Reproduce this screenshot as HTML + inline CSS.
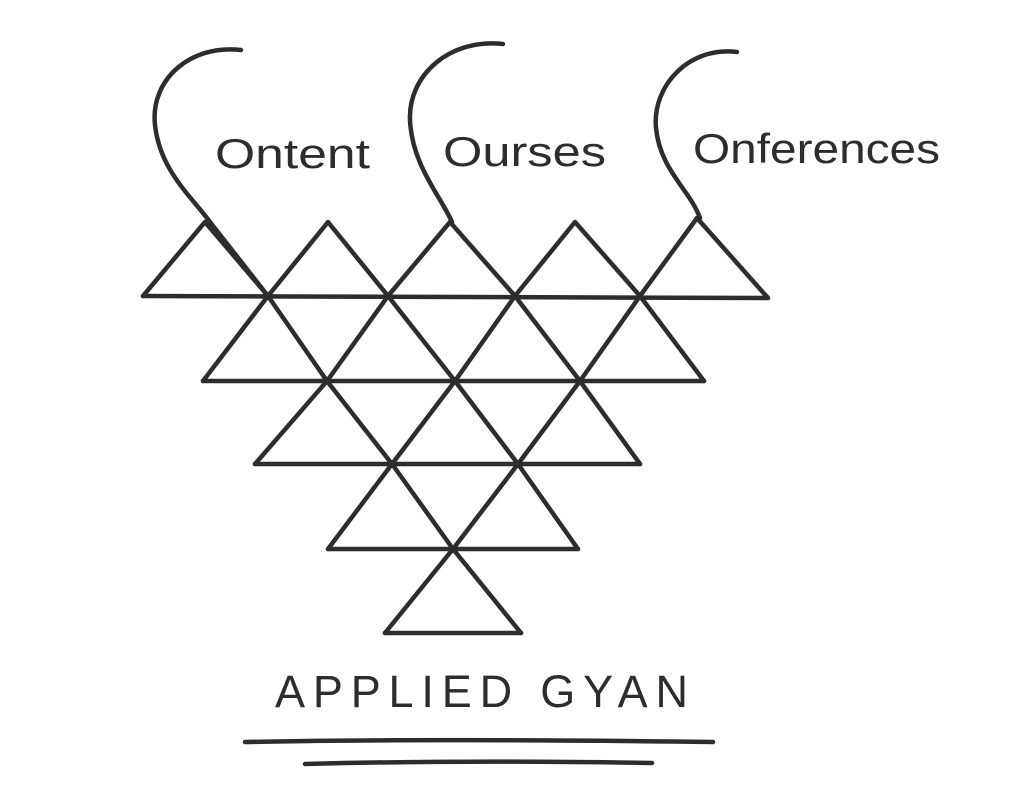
<!DOCTYPE html>
<html><head><meta charset="utf-8"><style>html,body{margin:0;padding:0;background:#fff}svg{display:block}</style></head>
<body>
<svg width="1024" height="789" viewBox="0 0 1024 789" xmlns="http://www.w3.org/2000/svg">
<g fill="none" stroke="#2d2d2d" stroke-width="4.5" stroke-linecap="round" stroke-linejoin="round">
<path d="M241,50 C190,44 150,80 155,125 C160,170 190,195 210,222 L268,296"/>
<path d="M503,44 C450,38 408,75 410,120 C412,165 440,195 452,222"/>
<path d="M737,52 C690,46 652,85 656,128 C660,170 690,190 700,218"/>
<path d="M143,296 L768,298"/>
<path d="M203,381 L704,381"/>
<path d="M255,464 L640,464"/>
<path d="M328,549 L578,549"/>
<path d="M385,633 L521,633"/>
<path d="M143,296 L205,222 L268,296 L328,222 L388,296 L450,222 L515,296 L575,222 L640,296 L697,218 L768,298"/>
<path d="M203,381 L268,296 L327,381 L388,296 L455,381 L515,296 L580,381 L640,296 L704,381"/>
<path d="M255,464 L327,381 L392,464 L455,381 L518,464 L580,381 L640,464"/>
<path d="M328,549 L392,464 L453,549 L518,464 L578,549"/>
<path d="M385,633 L453,549 L521,633"/>
<path d="M245,742 C400,739 560,740 713,742"/>
<path d="M305,764 C420,761 540,761 652,763"/>
</g>
<g font-family="Liberation Sans, sans-serif" fill="#2d2d2d" font-size="42">
<text x="215" y="168" textLength="155" lengthAdjust="spacingAndGlyphs">Ontent</text>
<text x="443" y="166" textLength="163" lengthAdjust="spacingAndGlyphs">Ourses</text>
<text x="693" y="163" textLength="247" lengthAdjust="spacingAndGlyphs">Onferences</text>
<text x="275" y="707" font-size="45" textLength="413" lengthAdjust="spacing">APPLIED GYAN</text>
</g>
</svg>
</body></html>
